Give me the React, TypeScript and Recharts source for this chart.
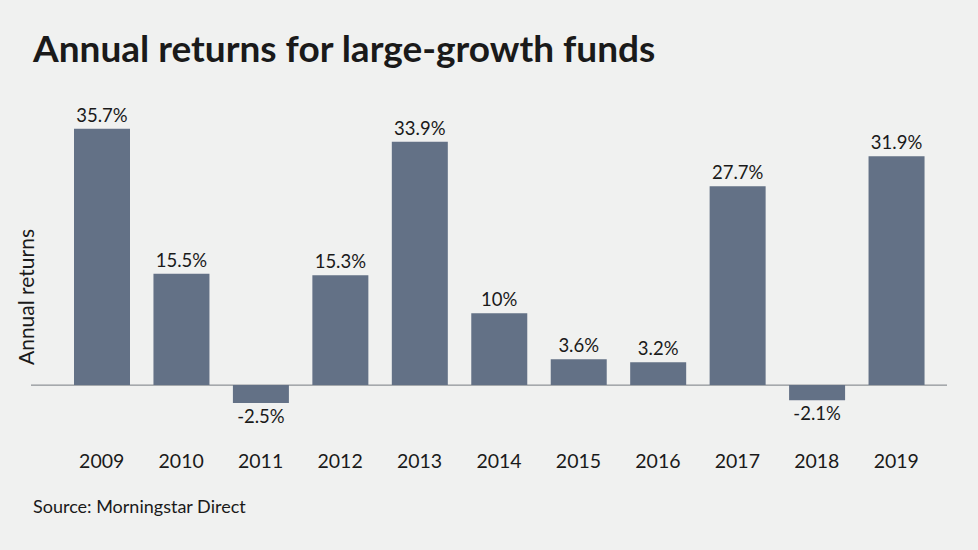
import React from "react";
import { BarChart, Bar, XAxis, YAxis, CartesianGrid, LabelList } from "recharts";

const years = ["2009", "2010", "2011", "2012", "2013", "2014", "2015", "2016", "2017", "2018", "2019"];
const returns = [35.7, 15.5, -2.5, 15.3, 33.9, 10, 3.6, 3.2, 27.7, -2.1, 31.9];

const data = years.map((year, i) => ({ year, value: returns[i] }));

const FONT = "Lato, 'Open Sans', sans-serif";
const BAR = "#637186";
const TEXT = "#1a1a1a";

function ValueLabel(props: any) {
  const { x, y, width, height, value } = props;
  const top = Math.min(y, y + height);
  const bottom = Math.max(y, y + height);
  const neg = value < 0;
  return (
    <text
      x={x + width / 2}
      y={neg ? bottom + 20 : top - 7}
      textAnchor="middle"
      fill={TEXT}
      fontSize={18.5}
      fontFamily={FONT}
    >
      {value}%
    </text>
  );
}

export default function App() {
  return (
    <div
      style={{
        position: "absolute",
        left: 0,
        top: 0,
        width: 978,
        height: 550,
        background: "#f0f1f0",
        fontFamily: FONT,
        color: TEXT,
        overflow: "hidden",
      }}
    >
      <div
        style={{
          position: "absolute",
          left: 33,
          top: 25,
          fontSize: 37,
          fontWeight: 700,
          whiteSpace: "nowrap",
        }}
      >
        Annual returns for large-growth funds
      </div>
      <div
        style={{
          position: "absolute",
          left: 25,
          top: 297,
          fontSize: 21,
          whiteSpace: "nowrap",
          transform: "translate(-50%, -50%) rotate(-90deg)",
        }}
      >
        Annual returns
      </div>
      <div
        style={{
          position: "absolute",
          left: 33,
          top: 495,
          fontSize: 18,
          whiteSpace: "nowrap",
        }}
      >
        Source: Morningstar Direct
      </div>
      <div style={{ position: "absolute", left: 0, top: 0 }}>
        <BarChart
          width={978}
          height={550}
          data={data}
          margin={{ top: 98, right: 31, bottom: 99, left: 31 }}
        >
          {/* zero line only, spanning the whole plot width */}
          <CartesianGrid vertical={false} stroke="#767b82" strokeWidth={1} syncWithTicks />
          <YAxis hide domain={[-5, 40]} ticks={[0]} />
          <XAxis
            dataKey="year"
            axisLine={false}
            tickLine={false}
            padding={{ left: 31, right: 11 }}
            tickMargin={27}
            tick={{ fill: TEXT, fontSize: 19.5, fontFamily: FONT }}
            interval={0}
          />
          <Bar dataKey="value" fill={BAR} barSize={56} isAnimationActive={false}>
            <LabelList dataKey="value" content={ValueLabel} />
          </Bar>
        </BarChart>
      </div>
    </div>
  );
}
